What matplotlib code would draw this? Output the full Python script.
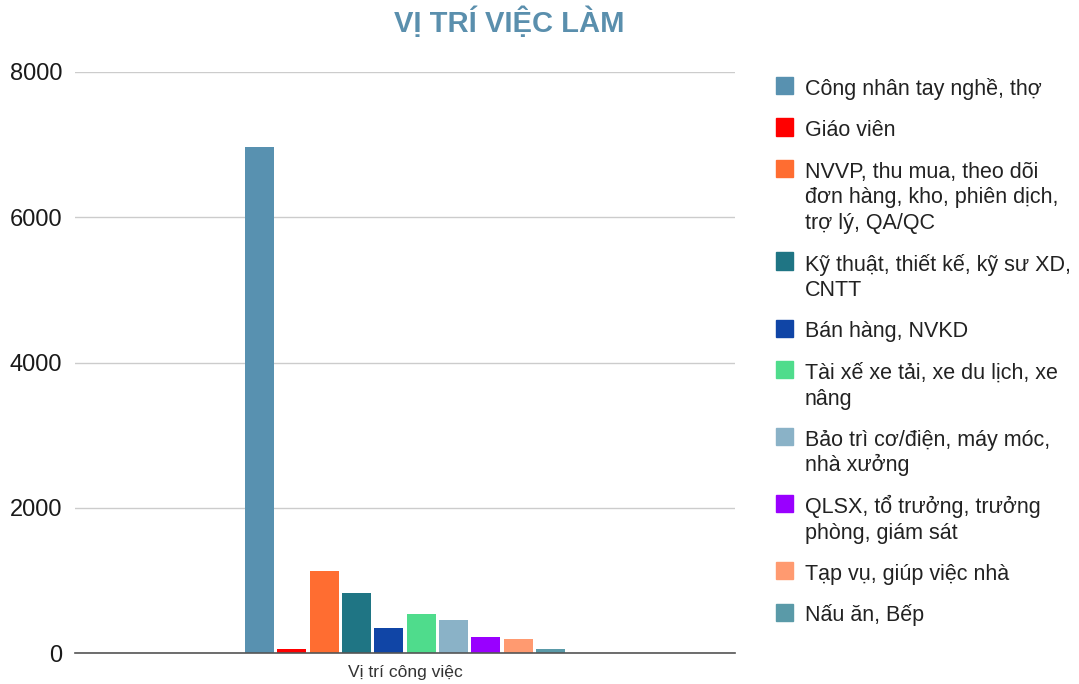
import numpy as np
import matplotlib.pyplot as plt
from matplotlib.patches import Rectangle

categories = [
    "Công nhân tay nghề, thợ",
    "Giáo viên",
    "NVVP, thu mua, theo dõi\nđơn hàng, kho, phiên dịch,\ntrợ lý, QA/QC",
    "Kỹ thuật, thiết kế, kỹ sư XD,\nCNTT",
    "Bán hàng, NVKD",
    "Tài xế xe tải, xe du lịch, xe\nnâng",
    "Bảo trì cơ/điện, máy móc,\nnhà xưởng",
    "QLSX, tổ trưởng, trưởng\nphòng, giám sát",
    "Tạp vụ, giúp việc nhà",
    "Nấu ăn, Bếp",
]
values = [6970, 60, 1125, 826, 340, 542, 458, 220, 197, 58]
colors = ["#5891b0", "#ff0000", "#ff6d31", "#1f7584", "#1045a6",
          "#4fdc8c", "#8ab2c7", "#9900ff", "#ff9a70", "#5a9aa8"]
group_label = "Vị trí công việc"
yticks = [0, 2000, 4000, 6000, 8000]

plt.rcParams['font.family'] = ['Liberation Sans', 'DejaVu Sans']

W, H = 1079, 684
fig = plt.figure(figsize=(W / 100, H / 100), dpi=100)
ax = fig.add_axes([75 / W, 1 - 653 / H, 660 / W, 581 / H])

n = len(values)
pitch = 0.1
offsets = (np.arange(n) - (n - 1) / 2) * pitch
for off, v, c in zip(offsets, values, colors):
    ax.bar(off, v, width=0.09, color=c, zorder=3)

ax.set_xlim(-1.02, 1.02)
ax.set_ylim(0, 8000)
ax.set_yticks(yticks)
ax.set_yticklabels([str(t) for t in yticks], fontsize=17, color="#1a1a1a")
ax.set_xticks([0])
ax.set_xticklabels([group_label], fontsize=12.6, color="#333333")
ax.tick_params(axis='y', length=0, pad=9)
ax.tick_params(axis='x', length=0, pad=9)
ax.grid(axis='y', color="#cccccc", linewidth=1, zorder=0)
for s in ['top', 'right', 'left']:
    ax.spines[s].set_visible(False)
ax.spines['bottom'].set_color("#555555")
ax.spines['bottom'].set_linewidth(1.2)
ax.spines['bottom'].set_zorder(4)

fig.text(509 / W, 1 - 22 / H, "VỊ TRÍ VIỆC LÀM", ha='center', va='center',
         fontsize=21, fontweight='bold', color="#5a8fad",
         family=['Liberation Sans Narrow', 'Liberation Sans', 'DejaVu Sans'])

# legend drawn by hand so the swatch sits on the first line of each entry
base = 95.0
for lab, c in zip(categories, colors):
    lines = lab.split("\n")
    fig.patches.append(Rectangle((776 / W, 1 - (base - 9.5 + 8.5) / H), 17 / W, 17 / H,
                                 transform=fig.transFigure, color=c))
    for i, line in enumerate(lines):
        fig.text(805 / W, 1 - (base + i * 25.5) / H, line, ha='left', va='baseline',
                 fontsize=15.5, color="#222222")
    base += (len(lines) - 1) * 25.5 + 41.5

fig.savefig("out.png", dpi=100)
